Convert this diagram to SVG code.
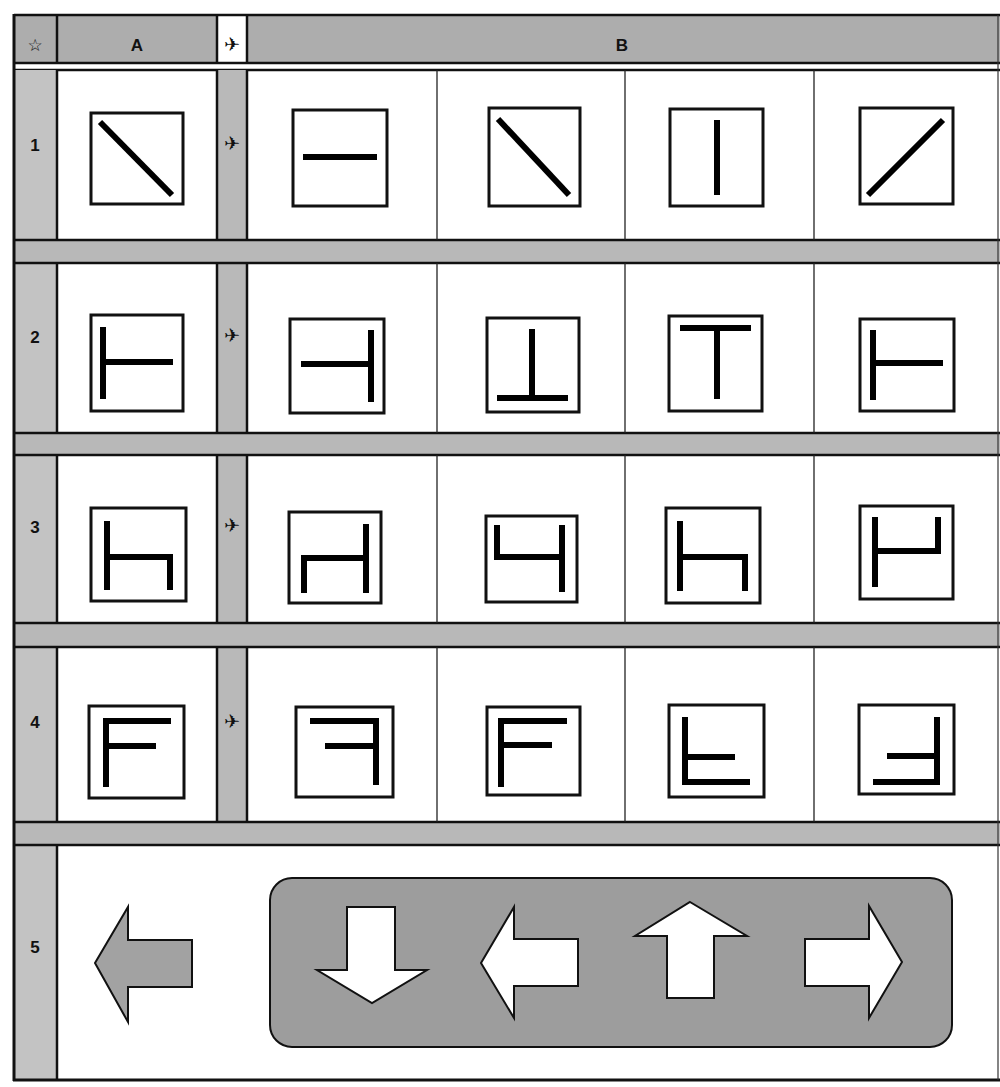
<svg xmlns="http://www.w3.org/2000/svg" width="1000" height="1087" viewBox="0 0 1000 1087">
<style>
.bg{fill:#ffffff}
.hdr{fill:#adadad}
.band{fill:#b8b8b8}
.side{fill:#c3c3c3}
.pcol{fill:#b9b9b9}
.cell{fill:#ffffff}
.hl{stroke:#111;stroke-width:2.5;fill:none}
.thin{stroke:#222;stroke-width:1.3;fill:none}
.box{fill:#fff;stroke:#111;stroke-width:3}
.bar{fill:none;stroke:#000;stroke-width:6;stroke-linecap:butt;stroke-linejoin:miter}
.lbl{font-family:"Liberation Sans",Arial,sans-serif;font-weight:bold;font-size:17px;fill:#111;text-anchor:middle}
.pl{font-family:"DejaVu Sans",sans-serif;font-size:19px;fill:#111;text-anchor:middle}
.arrW{fill:#fff;stroke:#111;stroke-width:2;stroke-linejoin:miter}
.arrG{fill:#a2a2a2;stroke:#111;stroke-width:2;stroke-linejoin:miter}
</style>
<rect class="bg" x="0" y="0" width="1000" height="1087"/>

<g id="header">
  <rect class="hdr" x="14" y="15" width="986" height="48"/>
  <rect class="cell" x="217" y="15" width="30" height="48"/>
  <rect fill="#fff" x="14" y="63" width="986" height="7"/>
  <line class="hl" x1="14" y1="15" x2="1000" y2="15"/>
  <line class="hl" x1="14" y1="63" x2="1000" y2="63"/>
  <line class="hl" x1="14" y1="70" x2="1000" y2="70"/>
  <line class="hl" x1="57" y1="15" x2="57" y2="63"/>
  <line class="hl" x1="217" y1="15" x2="217" y2="63"/>
  <line class="hl" x1="247" y1="15" x2="247" y2="63"/>
  <text class="pl" x="35" y="51" style="font-size:17px">☆</text>
  <text class="lbl" x="137" y="51">A</text>
  <text class="pl" x="232" y="51">✈</text>
  <text class="lbl" x="622" y="51">B</text>
</g>

<g id="bands">
  <rect class="band" x="14" y="240" width="986" height="23"/>
  <rect class="band" x="14" y="433" width="986" height="22"/>
  <rect class="band" x="14" y="623" width="986" height="24"/>
  <rect class="band" x="14" y="822" width="986" height="23"/>
</g>

<g id="row1">
  <rect class="side" x="14" y="70" width="43" height="170"/>
  <rect class="pcol" x="217" y="70" width="30" height="170"/>
  <line class="hl" x1="14" y1="240" x2="1000" y2="240"/>
  <line class="hl" x1="57" y1="70" x2="57" y2="240"/>
  <line class="hl" x1="217" y1="70" x2="217" y2="240"/>
  <line class="hl" x1="247" y1="70" x2="247" y2="240"/>
  <line class="thin" x1="437" y1="70" x2="437" y2="240"/>
  <line class="thin" x1="625" y1="70" x2="625" y2="240"/>
  <line class="thin" x1="814" y1="70" x2="814" y2="240"/>
  <text class="lbl" x="35" y="151">1</text>
  <text class="pl" x="232" y="150">✈</text>
  <g id="r1a"><rect class="box" x="91" y="113" width="92" height="91"/><path class="bar" d="M100 122 L172 195"/></g>
  <g id="r1b1"><rect class="box" x="293" y="110" width="94" height="96"/><path class="bar" d="M303 157 H377"/></g>
  <g id="r1b2"><rect class="box" x="489" y="108" width="91" height="98"/><path class="bar" d="M498 119 L569 195"/></g>
  <g id="r1b3"><rect class="box" x="670" y="109" width="93" height="97"/><path class="bar" d="M717 120 V195"/></g>
  <g id="r1b4"><rect class="box" x="860" y="108" width="93" height="96"/><path class="bar" d="M868 195 L943 120"/></g>
</g>

<g id="row2">
  <rect class="side" x="14" y="263" width="43" height="170"/>
  <rect class="pcol" x="217" y="263" width="30" height="170"/>
  <line class="hl" x1="14" y1="263" x2="1000" y2="263"/>
  <line class="hl" x1="14" y1="433" x2="1000" y2="433"/>
  <line class="hl" x1="57" y1="263" x2="57" y2="433"/>
  <line class="hl" x1="217" y1="263" x2="217" y2="433"/>
  <line class="hl" x1="247" y1="263" x2="247" y2="433"/>
  <line class="thin" x1="437" y1="263" x2="437" y2="433"/>
  <line class="thin" x1="625" y1="263" x2="625" y2="433"/>
  <line class="thin" x1="814" y1="263" x2="814" y2="433"/>
  <text class="lbl" x="35" y="343">2</text>
  <text class="pl" x="232" y="342">✈</text>
  <g id="r2a"><rect class="box" x="91" y="315" width="92" height="96"/><path class="bar" d="M103 327 V399 M103 362 H173"/></g>
  <g id="r2b1"><rect class="box" x="290" y="319" width="94" height="94"/><path class="bar" d="M371 330 V402 M301 364 H371"/></g>
  <g id="r2b2"><rect class="box" x="487" y="318" width="92" height="94"/><path class="bar" d="M532 329 V398 M497 398 H568"/></g>
  <g id="r2b3"><rect class="box" x="669" y="316" width="93" height="95"/><path class="bar" d="M680 328 H751 M717 328 V399"/></g>
  <g id="r2b4"><rect class="box" x="860" y="319" width="94" height="92"/><path class="bar" d="M873 330 V400 M873 363 H943"/></g>
</g>

<g id="row3">
  <rect class="side" x="14" y="455" width="43" height="168"/>
  <rect class="pcol" x="217" y="455" width="30" height="168"/>
  <line class="hl" x1="14" y1="455" x2="1000" y2="455"/>
  <line class="hl" x1="14" y1="623" x2="1000" y2="623"/>
  <line class="hl" x1="57" y1="455" x2="57" y2="623"/>
  <line class="hl" x1="217" y1="455" x2="217" y2="623"/>
  <line class="hl" x1="247" y1="455" x2="247" y2="623"/>
  <line class="thin" x1="437" y1="455" x2="437" y2="623"/>
  <line class="thin" x1="625" y1="455" x2="625" y2="623"/>
  <line class="thin" x1="814" y1="455" x2="814" y2="623"/>
  <text class="lbl" x="35" y="533">3</text>
  <text class="pl" x="232" y="532">✈</text>
  <g id="r3a"><rect class="box" x="91" y="508" width="95" height="93"/><path class="bar" d="M107 521 V590 M107 557 H170 V590"/></g>
  <g id="r3b1"><rect class="box" x="289" y="512" width="92" height="91"/><path class="bar" d="M366 524 V593 M366 558 H304 V593"/></g>
  <g id="r3b2"><rect class="box" x="486" y="516" width="91" height="86"/><path class="bar" d="M562 525 V592 M562 557 H497 V525"/></g>
  <g id="r3b3"><rect class="box" x="666" y="508" width="94" height="95"/><path class="bar" d="M680 521 V591 M680 557 H745 V591"/></g>
  <g id="r3b4"><rect class="box" x="860" y="506" width="93" height="93"/><path class="bar" d="M875 517 V587 M875 551 H938 V517"/></g>
</g>

<g id="row4">
  <rect class="side" x="14" y="647" width="43" height="175"/>
  <rect class="pcol" x="217" y="647" width="30" height="175"/>
  <line class="hl" x1="14" y1="647" x2="1000" y2="647"/>
  <line class="hl" x1="14" y1="822" x2="1000" y2="822"/>
  <line class="hl" x1="57" y1="647" x2="57" y2="822"/>
  <line class="hl" x1="217" y1="647" x2="217" y2="822"/>
  <line class="hl" x1="247" y1="647" x2="247" y2="822"/>
  <line class="thin" x1="437" y1="647" x2="437" y2="822"/>
  <line class="thin" x1="625" y1="647" x2="625" y2="822"/>
  <line class="thin" x1="814" y1="647" x2="814" y2="822"/>
  <text class="lbl" x="35" y="728">4</text>
  <text class="pl" x="232" y="728">✈</text>
  <g id="r4a"><rect class="box" x="89" y="706" width="95" height="92"/><path class="bar" d="M106 787 V721 H171 M106 746 H156"/></g>
  <g id="r4b1"><rect class="box" x="296" y="707" width="97" height="90"/><path class="bar" d="M376 785 V721 H310 M376 746 H325"/></g>
  <g id="r4b2"><rect class="box" x="487" y="707" width="93" height="88"/><path class="bar" d="M501 787 V721 H567 M501 745 H552"/></g>
  <g id="r4b3"><rect class="box" x="669" y="705" width="95" height="92"/><path class="bar" d="M685 717 V782 H750 M685 757 H735"/></g>
  <g id="r4b4"><rect class="box" x="859" y="705" width="95" height="89"/><path class="bar" d="M937 717 V782 H873 M937 756 H887"/></g>
</g>

<g id="row5">
  <rect class="side" x="14" y="845" width="43" height="234"/>
  <line class="hl" x1="14" y1="845" x2="1000" y2="845"/>
  <line class="hl" x1="57" y1="845" x2="57" y2="1079"/>
  <text class="lbl" x="35" y="953">5</text>
  <g id="r5a"><polygon class="arrG" points="95,963 128,907 128,940 192,940 192,987 128,987 128,1022"/></g>
  <g id="r5b">
    <rect x="270" y="878" width="682" height="169" rx="22" ry="22" fill="#9d9d9d" stroke="#111" stroke-width="2"/>
    <polygon class="arrW" points="347,907 395,907 395,970 427,970 372,1003 317,970 347,970"/>
    <polygon class="arrW" points="481,963 514,907 514,939 578,939 578,986 514,986 514,1018"/>
    <polygon class="arrW" points="690,902 747,936 714,936 714,998 667,998 667,936 635,936"/>
    <polygon class="arrW" points="902,962 869,906 869,939 805,939 805,986 869,986 869,1018"/>
  </g>
</g>

<g id="frame">
  <line x1="14" y1="14" x2="14" y2="1081" stroke="#111" stroke-width="3"/>
  <line x1="13" y1="1080" x2="1000" y2="1080" stroke="#111" stroke-width="3"/>
  <line x1="998" y1="15" x2="998" y2="1080" stroke="#333" stroke-width="1.2"/>
</g>
</svg>
